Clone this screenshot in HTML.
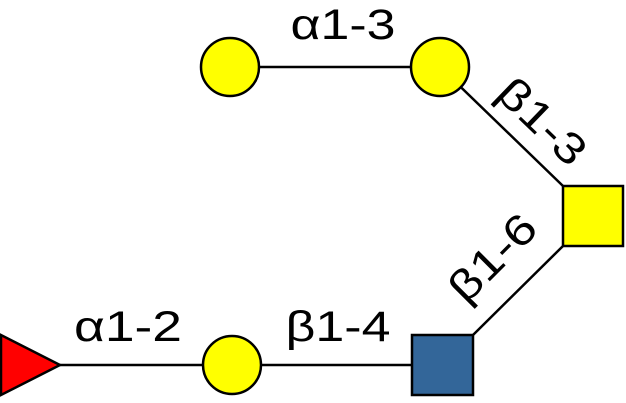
<!DOCTYPE html>
<html><head><style>html,body{margin:0;padding:0;background:#fff;width:626px;height:403px;overflow:hidden}</style></head>
<body>
<svg width="626" height="403" xmlns="http://www.w3.org/2000/svg" font-family="Liberation Sans, sans-serif" font-size="43">
<g stroke="#000" stroke-width="2.5" fill="none">
<line x1="230" y1="67" x2="440" y2="67"/>
<line x1="440" y1="67" x2="563" y2="186"/>
<line x1="563" y1="246" x2="473" y2="335"/>
<line x1="442" y1="365" x2="232" y2="365"/>
<line x1="232" y1="365" x2="40" y2="365"/>
</g>
<g stroke="#000" stroke-width="2.5">
<circle cx="230" cy="67" r="29" fill="#ffff00"/>
<circle cx="440" cy="67" r="29" fill="#ffff00"/>
<circle cx="232" cy="365" r="29" fill="#ffff00"/>
<rect x="563" y="186" width="60" height="60" fill="#ffff00"/>
<rect x="412" y="335" width="61" height="60" fill="#336699"/>
<polygon points="1,335 1,395 60,365" fill="#ff0000"/>
</g>
<g fill="#000">
<text x="343" y="39" text-anchor="middle" textLength="105" lengthAdjust="spacingAndGlyphs">α1-3</text>
<text x="128" y="341" text-anchor="middle" textLength="108" lengthAdjust="spacingAndGlyphs">α1-2</text>
<text x="338" y="341" text-anchor="middle" textLength="105" lengthAdjust="spacingAndGlyphs">β1-4</text>
<text transform="translate(532,132) rotate(44)" text-anchor="middle" textLength="105" lengthAdjust="spacingAndGlyphs">β1-3</text>
<text transform="translate(503,268) rotate(-45)" text-anchor="middle" textLength="105" lengthAdjust="spacingAndGlyphs">β1-6</text>
</g>
</svg>
</body></html>
